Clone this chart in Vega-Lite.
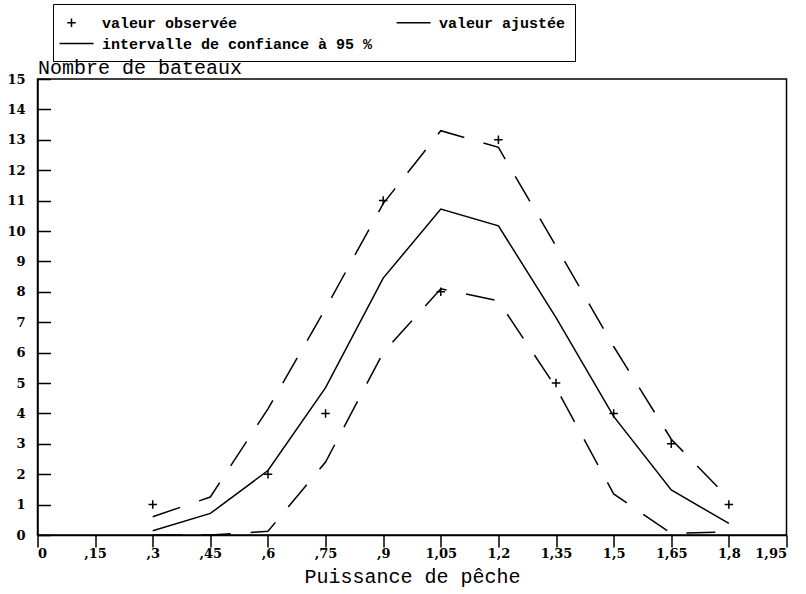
{
  "$schema": "https://vega.github.io/schema/vega-lite/v6.json",
  "width": 749,
  "height": 456,
  "autosize": {"type": "none"},
  "padding": {"left": 37.5, "top": 79, "right": 19.5, "bottom": 59},
  "background": "white",
  "data": {"values": [
    {"x": 0.3, "y": 1, "courbe": "obs"},
    {"x": 0.6, "y": 2, "courbe": "obs"},
    {"x": 0.75, "y": 4, "courbe": "obs"},
    {"x": 0.9, "y": 11, "courbe": "obs"},
    {"x": 1.05, "y": 8, "courbe": "obs"},
    {"x": 1.2, "y": 13, "courbe": "obs"},
    {"x": 1.35, "y": 5, "courbe": "obs"},
    {"x": 1.5, "y": 4, "courbe": "obs"},
    {"x": 1.65, "y": 3, "courbe": "obs"},
    {"x": 1.8, "y": 1, "courbe": "obs"},
    {"x": 0.3, "y": 0.14, "courbe": "ajustee"},
    {"x": 0.45, "y": 0.71, "courbe": "ajustee"},
    {"x": 0.6, "y": 2.12, "courbe": "ajustee"},
    {"x": 0.75, "y": 4.85, "courbe": "ajustee"},
    {"x": 0.9, "y": 8.45, "courbe": "ajustee"},
    {"x": 1.05, "y": 10.72, "courbe": "ajustee"},
    {"x": 1.2, "y": 10.17, "courbe": "ajustee"},
    {"x": 1.35, "y": 7.15, "courbe": "ajustee"},
    {"x": 1.5, "y": 3.9, "courbe": "ajustee"},
    {"x": 1.65, "y": 1.48, "courbe": "ajustee"},
    {"x": 1.8, "y": 0.38, "courbe": "ajustee"},
    {"x": 0.3, "y": 0.6, "courbe": "sup"},
    {"x": 0.45, "y": 1.25, "courbe": "sup"},
    {"x": 0.6, "y": 4.15, "courbe": "sup"},
    {"x": 0.75, "y": 7.45, "courbe": "sup"},
    {"x": 0.9, "y": 10.9, "courbe": "sup"},
    {"x": 1.05, "y": 13.3, "courbe": "sup"},
    {"x": 1.2, "y": 12.75, "courbe": "sup"},
    {"x": 1.35, "y": 9.5, "courbe": "sup"},
    {"x": 1.5, "y": 6.2, "courbe": "sup"},
    {"x": 1.65, "y": 3.15, "courbe": "sup"},
    {"x": 1.8, "y": 1.2, "courbe": "sup"},
    {"x": 0.3, "y": 0, "courbe": "inf"},
    {"x": 0.45, "y": 0, "courbe": "inf"},
    {"x": 0.6, "y": 0.12, "courbe": "inf"},
    {"x": 0.75, "y": 2.4, "courbe": "inf"},
    {"x": 0.9, "y": 6.0, "courbe": "inf"},
    {"x": 1.05, "y": 8.1, "courbe": "inf"},
    {"x": 1.2, "y": 7.7, "courbe": "inf"},
    {"x": 1.35, "y": 4.85, "courbe": "inf"},
    {"x": 1.5, "y": 1.35, "courbe": "inf"},
    {"x": 1.65, "y": 0.05, "courbe": "inf"},
    {"x": 1.8, "y": 0.1, "courbe": "inf"}
  ]},
  "encoding": {
    "x": {
      "field": "x", "type": "quantitative",
      "scale": {"domain": [0, 1.95], "nice": false, "zero": false},
      "axis": {
        "title": "Puissance de pêche",
        "values": [0, 0.15, 0.3, 0.45, 0.6, 0.75, 0.9, 1.05, 1.2, 1.35, 1.5, 1.65, 1.8, 1.95],
        "labelExpr": "datum.value == 0 ? '0' : (datum.value < 1 ? ',' + slice(format(datum.value, '.2~f'), 2) : replace(format(datum.value, '.2~f'), '.', ','))",
        "tickSize": 12,
        "labelPadding": 0,
        "labelBaseline": "top",
        "titlePadding": 6
      }
    },
    "y": {
      "field": "y", "type": "quantitative",
      "scale": {"domain": [0, 15], "nice": false},
      "axis": {
        "title": "Nombre de bateaux",
        "values": [0,1,2,3,4,5,6,7,8,9,10,11,12,13,14,15],
        "tickSize": -13,
        "labelPadding": 25.5,
        "titleAngle": 0,
        "titleX": 0,
        "titleY": -6,
        "titleAlign": "left",
        "titleBaseline": "alphabetic"
      }
    }
  },
  "layer": [
    {
      "transform": [{"filter": "datum.courbe == 'sup' || datum.courbe == 'inf'"}],
      "mark": {"type": "line", "color": "black", "strokeWidth": 1.5, "strokeDash": [29, 20]},
      "encoding": {"detail": {"field": "courbe"}}
    },
    {
      "transform": [{"filter": "datum.courbe == 'ajustee'"}],
      "mark": {"type": "line", "color": "black", "strokeWidth": 1.5},
      "encoding": {}
    },
    {
      "transform": [
        {"filter": "datum.courbe == 'obs'"},
        {"calculate": "'valeur observée'", "as": "serie"}
      ],
      "mark": {"type": "point", "color": "black", "filled": false, "strokeWidth": 1.5, "size": 289, "opacity": 1},
      "encoding": {
        "shape": {
          "field": "serie", "type": "nominal",
          "scale": {
            "domain": ["valeur observée", "valeur ajustée", "intervalle de confiance à 95 %"],
            "range": ["M-0.5,0H0.5M0,-0.5V0.5", "M-1.4,0H2.6", "M-1.4,0H2.6"]
          },
          "legend": {
            "title": null,
            "orient": "none",
            "legendX": 15.5,
            "legendY": -75,
            "columns": 2,
            "direction": "horizontal",
            "gridAlign": "all",
            "symbolSize": 289,
            "symbolStrokeColor": "black",
            "symbolStrokeWidth": 1.5,
            "symbolFillColor": "transparent",
            "labelFont": "Liberation Mono",
            "labelFontWeight": "bold",
            "labelFontSize": 15,
            "labelColor": "black",
            "labelOffset": 21,
            "rowPadding": 3,
            "columnPadding": 20,
            "padding": 9,
            "strokeColor": "black",
            "labelLimit": 400,
            "encode": {"legend": {"update": {"strokeWidth": {"value": 1.5}}}}
          }
        }
      }
    }
  ],
  "config": {
    "view": {"stroke": "black", "strokeWidth": 1.5},
    "axis": {
      "grid": false,
      "domainColor": "black",
      "domainWidth": 1.5,
      "tickColor": "black",
      "tickWidth": 1.5,
      "labelFont": "DejaVu Serif",
      "labelFontWeight": "bold",
      "labelFontSize": 13,
      "labelColor": "black",
      "titleFont": "Liberation Mono",
      "titleFontWeight": "normal",
      "titleFontSize": 20,
      "titleColor": "black"
    }
  }
}
